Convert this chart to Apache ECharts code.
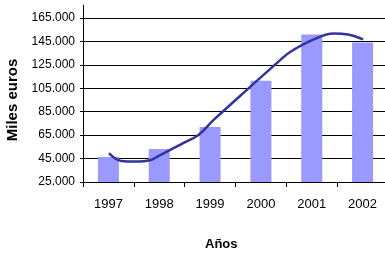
<!DOCTYPE html>
<html>
<head>
<meta charset="utf-8">
<script src="https://cdn.jsdelivr.net/npm/echarts@6/dist/echarts.min.js"></script>
<style>
  html, body { margin: 0; padding: 0; background: #fff; }
  #chart { width: 385px; height: 256px; }
</style>
</head>
<body>
<div id="chart"></div>
<script>
// años y valores de las barras (miles euros)
var years = ['1997', '1998', '1999', '2000', '2001', '2002']
var barValues = [46400, 53100, 72000, 111500, 151000, 144100]
// curva: posición en el eje (0 = borde izquierdo, 0.5 = centro de 1997) y valor
var curvePos = [0.51, 0.75, 1.03, 1.32, 1.48, 1.97, 2.27, 2.57, 3.1, 3.89, 4.09, 4.54, 4.93, 5.21, 5.51]
var curveValues = [49600, 43000, 42500, 43600, 47000, 58200, 65100, 78000, 98800, 129500, 136400, 146700, 151800, 151000, 146700]
var yTicks = { min: 25000, max: 165000, interval: 20000 }

var font = 'Liberation Sans, Arial, sans-serif'
var curveData = curvePos.map(function (p, i) { return [p, curveValues[i]] })

var chart = echarts.init(document.getElementById('chart'))
var option = {
  animation: false,
  backgroundColor: '#fff',
  title: {
    text: 'Años',
    left: 205,
    top: 238,
    padding: 0,
    textStyle: { fontFamily: font, fontSize: 13, fontWeight: 'bold', color: '#000' }
  },
  grid: [
    { left: 83, right: -3, top: 18, bottom: 74, outerBoundsMode: 'none' },
    // solo para prolongar la línea del eje Y hacia arriba
    { left: 83, right: -3, top: 5, bottom: 74, outerBoundsMode: 'none' }
  ],
  xAxis: [
    {
      type: 'category',
      gridIndex: 0,
      data: years,
      boundaryGap: true,
      axisLine: { lineStyle: { color: '#000', width: 1 } },
      axisTick: { show: true, length: 5, inside: false, lineStyle: { color: '#000' } },
      axisLabel: { color: '#000', fontFamily: font, fontSize: 13, margin: 16 }
    },
    {
      type: 'value',
      gridIndex: 0,
      min: 0,
      max: 6,
      show: false
    },
    { type: 'value', gridIndex: 1, show: false }
  ],
  yAxis: [
    {
      type: 'value',
      gridIndex: 0,
      min: yTicks.min,
      max: yTicks.max,
      interval: yTicks.interval,
      name: 'Miles euros',
      nameLocation: 'middle',
      nameGap: 63,
      nameTextStyle: { fontFamily: font, fontSize: 15, fontWeight: 'bold', color: '#000' },
      axisLine: { show: true, lineStyle: { color: '#000', width: 1 } },
      axisTick: { show: true, length: 3, lineStyle: { color: '#000' } },
      axisLabel: {
        color: '#000',
        fontFamily: font,
        fontSize: 12,
        margin: 8,
        formatter: function (v) { return (v / 1000) + '.000' }
      },
      splitLine: { show: true, lineStyle: { color: '#000', width: 1 } }
    },
    {
      type: 'value',
      gridIndex: 1,
      min: 0,
      max: 1,
      axisLine: { show: true, lineStyle: { color: '#000', width: 1 } },
      axisTick: { show: false },
      axisLabel: { show: false },
      splitLine: { show: false }
    }
  ],
  series: [
    {
      name: 'barras',
      type: 'bar',
      xAxisIndex: 0,
      yAxisIndex: 0,
      data: barValues,
      barWidth: 21,
      itemStyle: { color: '#9999FF' },
      z: 2
    },
    {
      name: 'curva',
      type: 'line',
      xAxisIndex: 1,
      yAxisIndex: 0,
      data: curveData,
      smooth: 0.4,
      showSymbol: false,
      lineStyle: { color: '#333399', width: 2.5 },
      z: 3
    }
  ]
}
chart.setOption(option)
</script>
</body>
</html>
